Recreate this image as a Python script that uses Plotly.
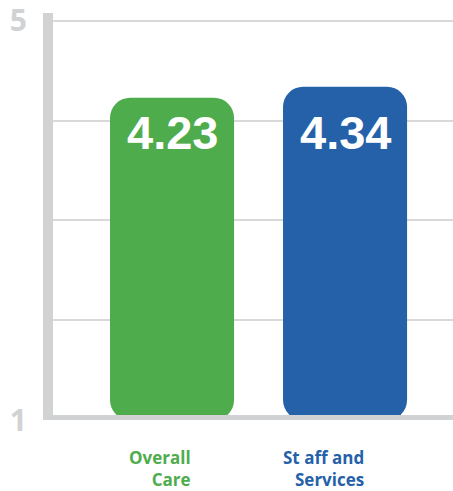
import plotly.graph_objects as go

categories = ["Overall<br>Care", "St aff and<br>Services"]
values = [4.23, 4.34]
bar_colors = ["#4fac4d", "#2561a8"]
tick_vals = [1, 2, 3, 4, 5]
tick_text = ["1", "", "", "", "5"]
y_range = [1, 5.08]

AXIS = "#d1d2d4"
GRID = "#d9d9d9"

fig = go.Figure()
fig.add_trace(go.Bar(
    x=categories, y=[v - y_range[0] for v in values], base=y_range[0],
    marker=dict(color=bar_colors, cornerradius=20, line=dict(width=0)),
    width=0.717, hoverinfo="skip",
))

annotations = []
label_y = min(values)
for c, v in zip(categories, values):
    annotations.append(dict(
        x=c, y=label_y, xref="x", yref="y", text=f"{v:.2f}", showarrow=False,
        yanchor="middle", yshift=-35,
        font=dict(family="Liberation Sans", size=47, color="white", weight="bold"),
    ))
for c, col in zip(categories, bar_colors):
    annotations.append(dict(
        x=c, y=0, xref="x", yref="paper", text=c, showarrow=False,
        xanchor="right", yanchor="top", align="right", xshift=21, yshift=-24,
        font=dict(family="Open Sans", size=17, color=col, weight="bold"),
    ))

shapes = [
    dict(type="line", xref="paper", yref="y", x0=0, x1=0, y0=y_range[0], y1=y_range[1],
         line=dict(color=AXIS, width=10), layer="above"),
    dict(type="line", xref="paper", yref="y", x0=0, x1=1, y0=y_range[0], y1=y_range[0],
         line=dict(color=AXIS, width=10), layer="above"),
    dict(type="circle", xref="paper", yref="y", xsizemode="pixel", ysizemode="pixel",
         xanchor=0, yanchor=y_range[1], x0=-5, x1=5, y0=-5, y1=5,
         fillcolor=AXIS, line=dict(width=0), layer="above"),
    dict(type="circle", xref="paper", yref="y", xsizemode="pixel", ysizemode="pixel",
         xanchor=0, yanchor=y_range[0], x0=-5, x1=5, y0=-5, y1=5,
         fillcolor=AXIS, line=dict(width=0), layer="above"),
]

fig.update_layout(
    width=453, height=491,
    margin=dict(l=48, r=0, t=13, b=71, autoexpand=False),
    paper_bgcolor="white", plot_bgcolor="white",
    showlegend=False,
    annotations=annotations, shapes=shapes,
    xaxis=dict(range=[-0.717, 1.624], showticklabels=False, showgrid=False,
               zeroline=False, showline=False, ticks="", automargin=False),
    yaxis=dict(range=y_range, tickvals=tick_vals, ticktext=tick_text,
               showgrid=True, gridcolor=GRID, gridwidth=2, zeroline=False,
               showline=False, ticks="", ticklabelstandoff=20, automargin=False,
               ticklabeloverflow="allow",
               tickfont=dict(family="Open Sans", size=30, color=AXIS, weight="bold")),
)

fig.write_html("out.html", config={"displayModeBar": False},
               post_script="document.body.style.margin='0';document.body.style.overflow='hidden';")
